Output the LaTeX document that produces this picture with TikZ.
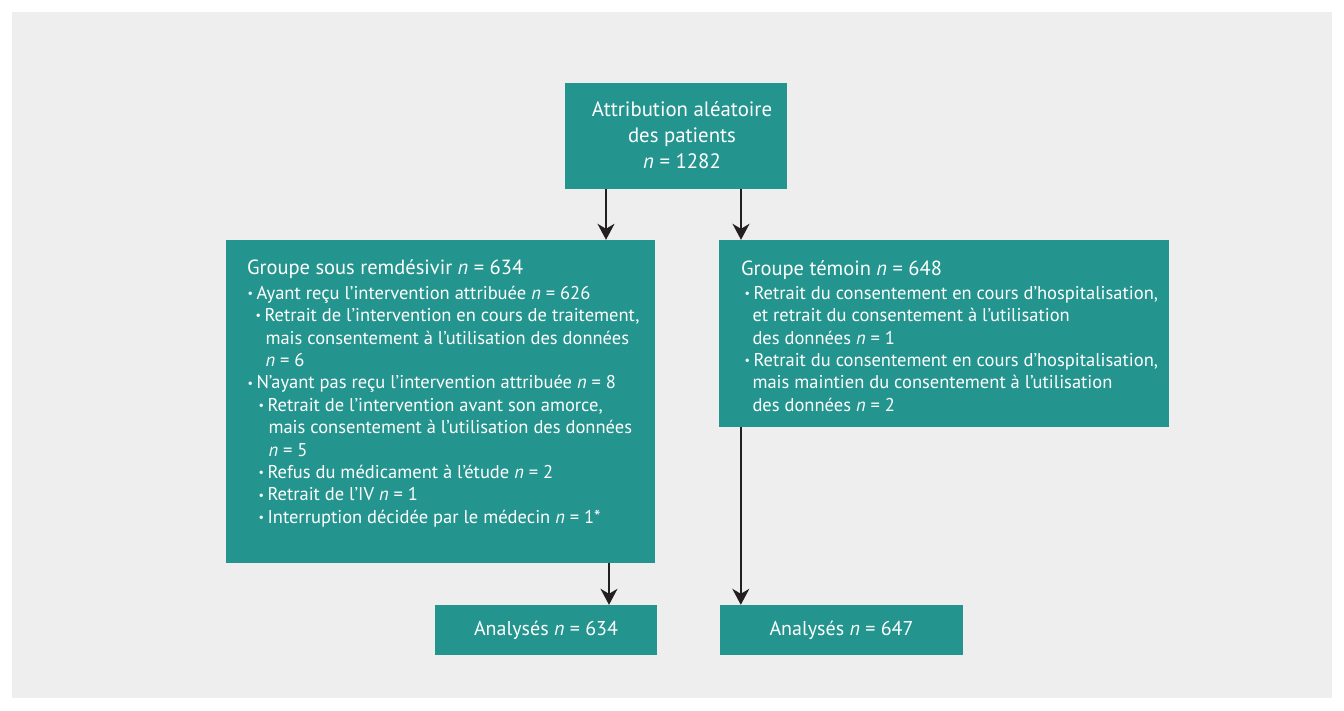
\documentclass[tikz,border=0pt]{standalone}
\usepackage{fontspec}
\setmainfont{PT Sans}
\usetikzlibrary{arrows.meta, positioning}
\usepackage{xcolor}
\definecolor{boxteal}{RGB}{35,149,142}
\definecolor{panelgray}{RGB}{238,238,238}
\definecolor{arrowblack}{RGB}{35,31,32}
\newcommand{\bodyfont}{\fontsize{18.5}{22.4}\selectfont}
\newcommand{\titlefont}{\fontsize{20.5}{22.4}\selectfont}
\newcommand{\puce}[1]{\hspace*{#1}\makebox[9.5pt][l]{\hspace{0.5pt}\raisebox{1.8pt}{\fontsize{12}{12}\selectfont •}}}
\tikzset{tealbox/.style={rectangle, fill=boxteal, draw=none, inner sep=0pt},
boxtext/.style={text=white, inner sep=0pt, align=left, font=\bodyfont},
flowarrow/.style={draw=arrowblack, line width=1.6pt, -{Stealth[length=16pt, width=17pt, inset=5pt]}}}

\begin{document}
\begin{tikzpicture}[x=1pt, y=-1pt]
        % Panel
        \useasboundingbox (0, 0) rectangle (1344, 711);
        \fill[white] (0, 0) rectangle (1344, 711);
        \fill[panelgray] (12, 12) rectangle (1332, 698);
        % Boxes
        \node[tealbox, minimum width=222pt, minimum height=106pt] (attrib) at (676, 136) {};
        \node[tealbox, minimum width=429pt, minimum height=323pt] (grpRem) at (440.5, 401.5) {};
        \node[tealbox, minimum width=450pt, minimum height=187pt] (grpTem) at (944, 333.5) {};
        \node[tealbox, minimum width=222pt, minimum height=50pt] (anaRem) at (546, 630) {};
        \node[tealbox, minimum width=243pt, minimum height=50pt] (anaTem) at (841.5, 630) {};
        % Texts
        \node[boxtext, align=center, font=\fontsize{20.8}{25.8}\selectfont] (attribTxt) at (682, 135) {Attribution aléatoire\\des patients\\\textit{n} = 1282};
        \node[boxtext, anchor=north west] (grpRemTxt) at ([shift={(21, 19.5)}]grpRem.north west) {%
            {\titlefont Groupe sous remdésivir \textit{n} = 634}\\[2.6pt]
            \puce{0pt}Ayant reçu l’intervention attribuée \textit{n} = 626\\
            \puce{8pt}Retrait de l’intervention en cours de traitement,\\
            \hspace*{18.5pt}mais consentement à l’utilisation des données\\
            \hspace*{18.5pt}\textit{n} = 6\\
            \puce{0pt}N’ayant pas reçu l’intervention attribuée \textit{n} = 8\\
            \puce{11pt}Retrait de l’intervention avant son amorce,\\
            \hspace*{21.5pt}mais consentement à l’utilisation des données\\
            \hspace*{21.5pt}\textit{n} = 5\\
            \puce{11pt}Refus du médicament à l’étude \textit{n} = 2\\
            \puce{11pt}Retrait de l’IV \textit{n} = 1\\
            \puce{11pt}Interruption décidée par le médecin \textit{n} = 1*};
        \node[boxtext, anchor=north west] (grpTemTxt) at ([shift={(22, 20.5)}]grpTem.north west) {%
            {\titlefont Groupe témoin \textit{n} = 648}\\[1.6pt]
            \puce{3pt}Retrait du consentement en cours d’hospitalisation,\\
            \hspace*{11.5pt}et retrait du consentement à l’utilisation\\
            \hspace*{11.5pt}des données \textit{n} = 1\\
            \puce{3pt}Retrait du consentement en cours d’hospitalisation,\\
            \hspace*{11.5pt}mais maintien du consentement à l’utilisation\\
            \hspace*{11.5pt}des données \textit{n} = 2};
        \node[boxtext, font=\fontsize{20}{22}\selectfont] (anaRemTxt) at (anaRem) {Analysés \textit{n} = 634};
        \node[boxtext, font=\fontsize{20}{22}\selectfont] (anaTemTxt) at (anaTem) {Analysés \textit{n} = 647};
        % Arrows
        \draw[flowarrow] ([xshift=-70pt]attrib.south) -- ([xshift=-70pt]attrib.south |- grpRem.north);
        \draw[flowarrow] ([xshift=65pt]attrib.south) -- ([xshift=65pt]attrib.south |- grpTem.north);
        \draw[flowarrow] ([xshift=63pt]anaRem.north |- grpRem.south) -- ([xshift=63pt]anaRem.north);
        \draw[flowarrow] ([xshift=22pt]grpTem.south west) -- ([xshift=22pt]grpTem.south west |- anaTem.north);
    \end{tikzpicture}
\end{document}
